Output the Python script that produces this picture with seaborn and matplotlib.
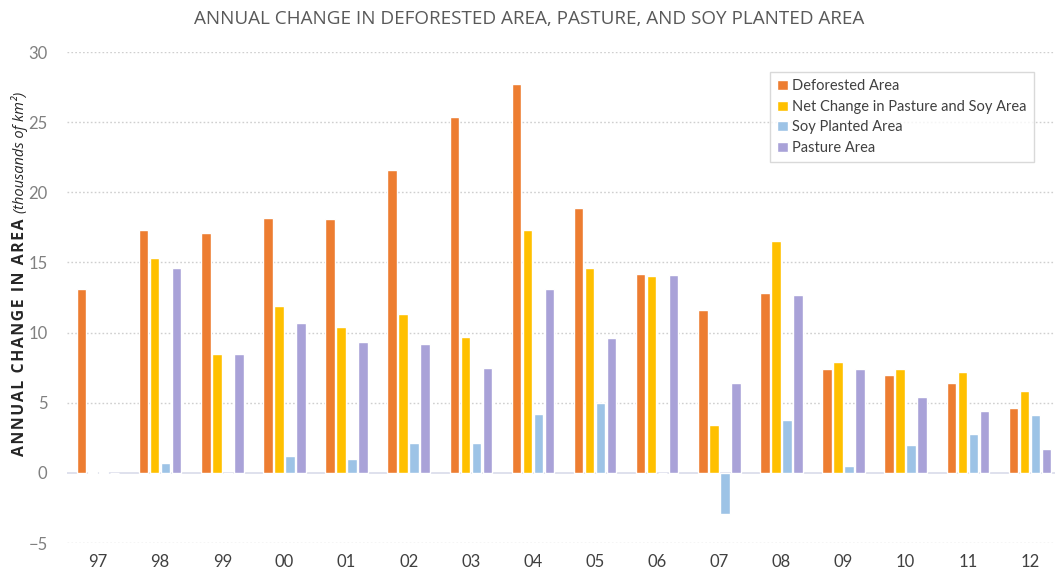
import matplotlib
matplotlib.use("Agg")
import matplotlib.pyplot as plt
import seaborn as sns
import pandas as pd

# Annual change (thousands of km²), 1997-2012
years = ["97", "98", "99", "00", "01", "02", "03", "04",
         "05", "06", "07", "08", "09", "10", "11", "12"]
deforested = [13.1, 17.3, 17.1, 18.2, 18.1, 21.6, 25.4, 27.7,
              18.9, 14.2, 11.6, 12.8, 7.4, 7.0, 6.4, 4.6]
net_pasture_soy = [0.08, 15.3, 8.5, 11.9, 10.4, 11.3, 9.7, 17.3,
                   14.6, 14.0, 3.4, 16.5, 7.9, 7.4, 7.2, 5.8]
soy_planted = [0.08, 0.7, 0.0, 1.2, 1.0, 2.1, 2.1, 4.2,
               5.0, 0.0, -2.9, 3.8, 0.5, 2.0, 2.8, 4.1]
pasture = [0.0, 14.6, 8.5, 10.7, 9.3, 9.2, 7.5, 13.1,
           9.6, 14.1, 6.4, 12.7, 7.4, 5.4, 4.4, 1.7]

series_names = ["Deforested Area", "Net Change in Pasture and Soy Area",
                "Soy Planted Area", "Pasture Area"]
series_colors = ["#ED7D31", "#FFC000", "#9DC3E6", "#A9A2D8"]

frames = []
for name, vals in zip(series_names,
                      [deforested, net_pasture_soy, soy_planted, pasture]):
    frames.append(pd.DataFrame({"year": years, "series": name, "value": vals}))
df = pd.concat(frames, ignore_index=True)

sns.set_theme(style="white")
plt.rcParams["font.family"] = ["Lato", "DejaVu Sans"]

fig = plt.figure(figsize=(10.55, 5.73), dpi=100)
ax = fig.add_axes([67 / 1055, 1 - 543 / 573, 994 / 1055, 491 / 573])

sns.barplot(data=df, x="year", y="value", hue="series",
            hue_order=series_names, palette=series_colors, order=years,
            width=0.71, gap=0.14, errorbar=None, saturation=1, ax=ax)

ax.set_ylim(-5, 30)
ax.set_xlim(-0.5, 15.5)
ax.set_yticks(range(-5, 31, 5))
for y in range(-5, 31, 5):
    if y != 0:
        ax.axhline(y, color="#CFCFCF", lw=1.0, ls=(0, (1.2, 1.6)), zorder=0)
ax.axhline(0, color="#D9DCEA", lw=1.2, zorder=0.5)

for s in ax.spines.values():
    s.set_visible(False)
ax.tick_params(axis="both", length=0)
ax.tick_params(axis="y", labelsize=12, labelcolor="#808080", pad=14)
ax.tick_params(axis="x", labelsize=12, labelcolor="#404040", pad=8)
ax.set_xlabel("")
ax.set_ylabel("")

handles, labels = ax.get_legend_handles_labels()
leg = ax.legend(handles, labels, loc="upper left",
                bbox_to_anchor=(770 / 1055, 1 - 72 / 573),
                bbox_transform=fig.transFigure,
                frameon=True, fancybox=False, fontsize=10.5,
                handlelength=0.7, handleheight=0.7, handletextpad=0.3,
                labelspacing=0.45, borderpad=0.5, borderaxespad=0,
                labelcolor="#404040")
leg.get_frame().set_edgecolor("#D0D0D0")
leg.get_frame().set_linewidth(1.0)

fig.text(0.502, 0.966, "ANNUAL CHANGE IN DEFORESTED AREA, PASTURE, AND SOY PLANTED AREA",
         ha="center", va="center", fontsize=13.6, color="#595959",
         family=["Open Sans", "DejaVu Sans"], fontweight="normal")

# Letter-spaced bold axis title with an italic unit note after it
spaced = "\u200a".join("ANNUAL CHANGE IN AREA")
ylab = fig.text(20 / 1055, 1 - 456 / 573, spaced,
                rotation=90, ha="center", va="bottom", fontsize=11.3,
                fontweight="bold", color="#262626",
                family=["Open Sans", "DejaVu Sans"])
ax.annotate("(thousands of km²)", xy=(0.5, 1.0), xycoords=ylab,
            xytext=(0, 4), textcoords="offset points",
            rotation=90, ha="center", va="bottom", fontsize=10.5,
            style="italic", color="#262626",
            family=["Open Sans", "DejaVu Sans"])

fig.savefig("out.png", dpi=100)
